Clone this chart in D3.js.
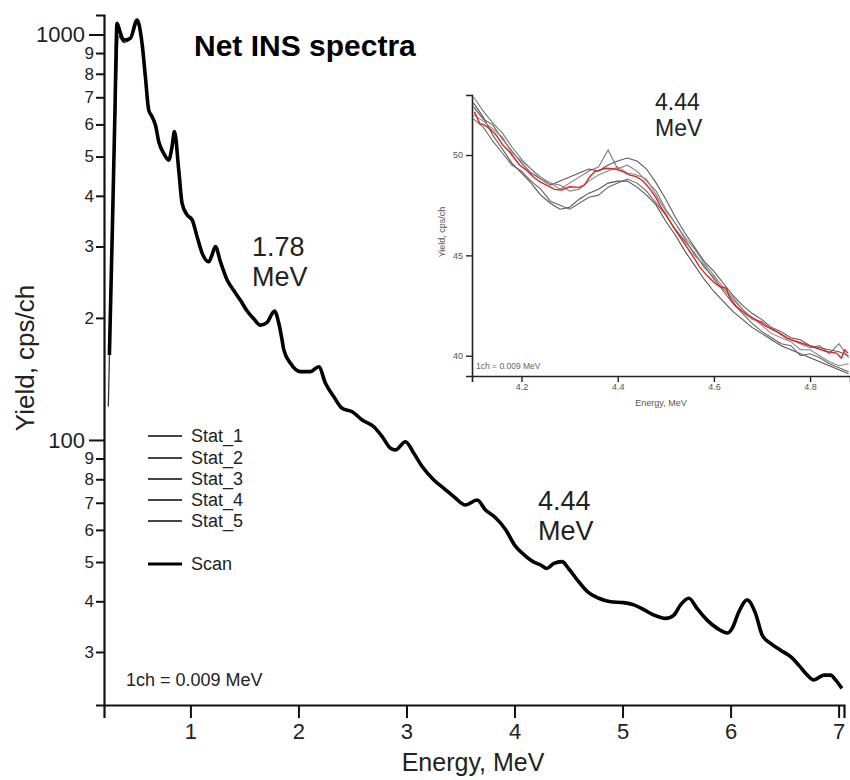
<!DOCTYPE html>
<html><head><meta charset="utf-8">
<script src="https://cdn.jsdelivr.net/npm/d3@7"></script>
<style>
body{margin:0;background:#fff;}
svg{display:block;font-family:"Liberation Sans",Arial,Helvetica,sans-serif;}
</style>
</head><body>
<svg id="chart" width="850" height="780"></svg>
<script>
// ---------- Main spectrum (log scale) ----------
const mainEnergy = [0.25,0.278,0.30,0.321,0.352,0.383,0.444,0.506,0.552,0.583,0.614,0.645,0.676,0.707,0.753,0.799,0.83,0.852,0.892,0.923,0.969,1.016,1.062,1.108,1.17,1.2,1.231,1.278,1.34,1.40,1.463,1.525,1.586,1.648,1.71,1.756,1.778,1.818,1.849,1.864,1.926,2.019,2.111,2.188,2.25,2.327,2.404,2.497,2.59,2.698,2.775,2.852,2.898,2.99,3.068,3.145,3.253,3.346,3.438,3.546,3.654,3.731,3.82,3.92,4.0,4.1,4.19,4.24,4.30,4.364,4.44,4.50,4.58,4.673,4.78,4.89,5.01,5.105,5.20,5.29,5.40,5.475,5.537,5.614,5.69,5.78,5.877,5.97,6.015,6.077,6.154,6.23,6.293,6.37,6.463,6.556,6.633,6.71,6.77,6.864,6.926,6.972,7.03];
const mainScan = [162,337,622,1066,1007,969,979,1086,951,787,651,627,598,544,509,490,529,576,463,383,359,349,317,289,275,286,300,275,248,234,221,208,199,192,195,205,208,194,176,167,154.6,147.4,147.4,151.6,138,127.9,119.7,117.4,112,107.8,101.9,95.4,94.5,99.0,92.7,86.0,79.7,76.0,72.5,69.1,71.1,67.2,64.5,60,55.1,51.8,49.8,49.2,48.2,49.6,50.1,48.2,45.2,42.3,40.7,39.9,39.7,39.2,38.1,37.0,36.3,37.0,39.2,40.7,38.4,36.0,34.3,33.4,34.3,37.7,40.3,37.4,33.0,31.5,30.3,29.2,27.8,26.3,25.6,26.3,26.3,25.6,24.4];
// one statistical run that deviates at the low-energy edge
const statStartEnergy = [0.24,0.27,0.30,0.336,0.383,0.444,0.506];
const statStartYield = [121,280,560,990,955,972,1080];

const yTickValues = [30,40,50,60,70,80,90,100,200,300,400,500,600,700,800,900,1000];
const yMajorTicks = [100,1000];
const xTickValues = [1,2,3,4,5,6,7];

const legendLabels = ["Stat_1","Stat_2","Stat_3","Stat_4","Stat_5","Scan"];

// ---------- Inset (4.44 MeV region, linear) ----------
const insetEnergy = [4.10,4.12,4.14,4.16,4.18,4.20,4.22,4.24,4.26,4.28,4.30,4.32,4.34,4.36,4.38,4.40,4.42,4.44,4.46,4.48,4.50,4.52,4.54,4.56,4.58,4.60,4.62,4.64,4.66,4.68,4.70,4.72,4.74,4.76,4.78,4.80,4.82,4.84,4.86,4.88];
const stat1 = [52.6,51.9,51.0,50.3,49.6,49.1,48.6,48.0,47.6,47.3,47.4,47.8,48.1,48.3,48.6,48.7,48.7,48.4,48.0,47.5,46.7,46.0,45.2,44.5,43.8,43.2,42.7,42.2,41.8,41.4,41.1,40.8,40.5,40.3,40.1,39.9,39.7,39.5,39.3,39.1];
const stat2 = [51.8,51.4,50.7,50.1,49.5,49.2,48.7,48.3,47.7,47.5,47.3,47.6,47.9,48.0,48.4,48.6,48.8,48.6,48.2,47.6,47.0,46.3,45.7,45.1,44.4,43.9,43.2,42.6,42.1,41.6,41.2,40.9,40.6,40.5,40.0,40.1,39.9,39.6,39.4,39.2];
const stat3 = [52.9,52.2,51.6,51.1,50.4,49.8,49.3,48.9,48.6,48.3,48.6,48.9,49.2,49.4,50.25,49.3,49.5,49.2,48.7,48.2,47.3,46.6,45.8,45.0,44.5,43.8,43.3,42.8,42.3,41.8,41.7,41.3,41.1,40.8,40.6,40.4,40.5,40.1,40.6,39.9];
const stat4 = [52.4,51.8,51.5,50.8,50.2,49.6,49.1,48.8,48.5,48.7,48.9,49.1,49.3,49.2,49.5,49.7,49.85,49.7,49.3,48.6,47.8,46.9,46.1,45.4,44.7,44.2,43.6,43.0,42.5,42.1,41.8,41.4,41.2,40.9,40.8,40.5,40.4,40.3,40.2,40.0];
const stat5 = [52.0,51.7,51.3,50.9,50.1,49.7,49.3,48.8,48.6,48.5,48.2,48.3,48.7,49.0,49.2,49.4,49.1,49.0,48.8,48.0,47.2,46.6,45.9,45.3,44.6,44.0,43.4,42.9,42.3,41.9,41.5,41.1,40.9,40.7,40.3,40.3,40.0,39.7,39.5,39.6];
const insetScanEnergy = [4.102,4.113,4.123,4.133,4.147,4.161,4.175,4.185,4.196,4.21,4.224,4.238,4.251,4.269,4.283,4.30,4.32,4.331,4.342,4.352,4.362,4.376,4.397,4.411,4.425,4.439,4.452,4.466,4.48,4.491,4.501,4.515,4.529,4.543,4.557,4.57,4.584,4.598,4.612,4.626,4.633,4.647,4.668,4.688,4.709,4.73,4.751,4.772,4.792,4.813,4.834,4.855,4.865,4.872,4.879];
const insetScanYield = [52.15,51.58,51.49,51.33,51.0,50.5,50.16,49.84,49.5,49.25,48.92,48.67,48.51,48.29,48.26,48.42,48.39,48.51,48.92,49.17,49.25,49.34,49.29,49.17,49.0,48.92,48.72,48.34,47.85,47.35,47.01,46.43,45.94,45.44,44.94,44.44,44.03,43.70,43.45,43.37,42.87,42.45,42.04,41.79,41.46,41.21,40.88,40.71,40.55,40.38,40.21,40.13,39.88,40.3,40.13];
const insetYTicks = [40,45,50];
const insetXTicks = [4.2,4.4,4.6,4.8];
const insetStatColors = ["#555","#666","#7a7a7a","#5c5c5c","#888"];

// =====================================================
const svg = d3.select("#chart");
const FONT = '"Liberation Sans",Arial,Helvetica,sans-serif';

const x = d3.scaleLinear().domain([0.2, 7.05]).range([104, 844]);
const y = d3.scaleLog().domain([22.2, 1117]).range([705, 15]);

const clipMain = svg.append("clipPath").attr("id","clipMain")
  .append("rect").attr("x",104).attr("y",0).attr("width",746).attr("height",705);

// Y axis
const yAxis = svg.append("g").attr("transform","translate(104,0)")
  .call(d3.axisLeft(y).tickValues(yTickValues).tickSize(8).tickPadding(3)
    .tickFormat(d => yMajorTicks.includes(d) ? String(d) : String(d).charAt(0)));
yAxis.select(".domain").attr("stroke","#111").attr("stroke-width",2.2);
yAxis.selectAll(".tick line").attr("stroke","#111").attr("stroke-width",2)
  .attr("x2", d => yMajorTicks.includes(d) ? -15 : -8);
yAxis.selectAll(".tick text").attr("fill","#222").style("font-family",FONT)
  .attr("x", d => yMajorTicks.includes(d) ? -19 : -10)
  .style("font-size", d => yMajorTicks.includes(d) ? "22px" : "17px");

// X axis
const xAxis = svg.append("g").attr("transform","translate(0,705)")
  .call(d3.axisBottom(x).tickValues(xTickValues).tickSize(13).tickPadding(5).tickFormat(d3.format("d")));
xAxis.select(".domain").attr("stroke","#111").attr("stroke-width",2.2);
xAxis.selectAll(".tick line").attr("stroke","#111").attr("stroke-width",2);
xAxis.selectAll(".tick text").attr("fill","#222").style("font-family",FONT).style("font-size","22px");

// Axis titles
svg.append("text").attr("x",473).attr("y",771).attr("text-anchor","middle")
  .style("font-size","25px").attr("fill","#222").text("Energy, MeV");
svg.append("text").attr("transform","translate(34,358) rotate(-90)").attr("text-anchor","middle")
  .style("font-size","26px").attr("fill","#222").text("Yield, cps/ch");

// Main curves
const mainPts = mainEnergy.map((e,i)=>[e, mainScan[i]]);
const statPts = statStartEnergy.map((e,i)=>[e, statStartYield[i]]);
const lineMain = d3.line().x(d=>x(d[0])).y(d=>y(d[1])).curve(d3.curveMonotoneX);
const gMain = svg.append("g").attr("clip-path","url(#clipMain)");
gMain.append("path").datum(statPts).attr("d",lineMain).attr("fill","none")
  .attr("stroke","#333").attr("stroke-width",1.3);
gMain.append("path").datum(mainPts).attr("d",lineMain).attr("fill","none")
  .attr("stroke","#000").attr("stroke-width",3.6).attr("stroke-linejoin","round");

// Title and annotations
svg.append("text").attr("x",194).attr("y",56).style("font-size","30px").style("font-weight","bold")
  .attr("fill","#000").text("Net INS spectra");
const ann = (tx, ty, lines, size) => {
  const t = svg.append("text").attr("x",tx).attr("y",ty).style("font-size",size+"px").attr("fill","#222");
  lines.forEach((s,i)=> t.append("tspan").attr("x",tx).attr("dy", i===0?0:size*1.12).text(s));
};
ann(252, 256, ["1.78","MeV"], 27);
ann(538, 510, ["4.44","MeV"], 27);
svg.append("text").attr("x",126).attr("y",686).style("font-size","18px").attr("fill","#222").text("1ch = 0.009 MeV");

// Legend
const legY = [436,458,479,500,521,564];
const lg = svg.append("g");
legendLabels.forEach((lab,i)=>{
  const isScan = lab === "Scan";
  lg.append("line").attr("x1",148).attr("x2",182).attr("y1",legY[i]).attr("y2",legY[i])
    .attr("stroke", isScan ? "#000" : "#444").attr("stroke-width", isScan ? 3 : 1.8);
  lg.append("text").attr("x",191).attr("y",legY[i]).attr("dy","0.35em")
    .style("font-size","18px").attr("fill","#222").text(lab);
});

// ---------- Inset ----------
const xi = d3.scaleLinear().domain([4.097, 4.883]).range([472, 850]);
const yi = d3.scaleLinear().domain([38.99, 52.99]).range([376, 95]);
svg.append("clipPath").attr("id","clipInset")
  .append("rect").attr("x",472).attr("y",88).attr("width",378).attr("height",288);

const yiAxis = svg.append("g").attr("transform","translate(472,0)")
  .call(d3.axisLeft(yi).tickValues(insetYTicks).tickSize(6).tickPadding(3));
yiAxis.select(".domain").attr("stroke","#222").attr("stroke-width",1.6);
yiAxis.selectAll(".tick line").attr("stroke","#222").attr("stroke-width",1.4);
yiAxis.selectAll(".tick text").attr("fill","#555").style("font-family",FONT).style("font-size","9px");
const xiAxis = svg.append("g").attr("transform","translate(0,376)")
  .call(d3.axisBottom(xi).tickValues(insetXTicks).tickSize(6).tickPadding(2).tickFormat(d3.format(".1f")));
xiAxis.select(".domain").attr("stroke","#222").attr("stroke-width",1.6);
xiAxis.selectAll(".tick line").attr("stroke","#222").attr("stroke-width",1.4);
xiAxis.selectAll(".tick text").attr("fill","#555").style("font-family",FONT).style("font-size","9px");

svg.append("text").attr("x",661).attr("y",406).attr("text-anchor","middle")
  .style("font-size","9px").attr("fill","#555").text("Energy, MeV");
svg.append("text").attr("transform","translate(445,232) rotate(-90)").attr("text-anchor","middle")
  .style("font-size","9px").attr("fill","#555").text("Yield, cps/ch");
svg.append("text").attr("x",476).attr("y",369).style("font-size","8.5px").attr("fill","#666").text("1ch = 0.009 MeV");
ann(655, 110, ["4.44","MeV"], 23);

const lineInset = d3.line().x(d=>xi(d[0])).y(d=>yi(d[1]));
const gi = svg.append("g").attr("clip-path","url(#clipInset)");
[stat1,stat2,stat3,stat4,stat5].forEach((s,k)=>{
  gi.append("path").datum(insetEnergy.map((e,i)=>[e,s[i]])).attr("d",lineInset)
    .attr("fill","none").attr("stroke",insetStatColors[k]).attr("stroke-width",1.1);
});
gi.append("path").datum(insetScanEnergy.map((e,i)=>[e,insetScanYield[i]])).attr("d",lineInset)
  .attr("fill","none").attr("stroke","#e8201c").attr("stroke-width",1.4);
</script>
</body></html>
